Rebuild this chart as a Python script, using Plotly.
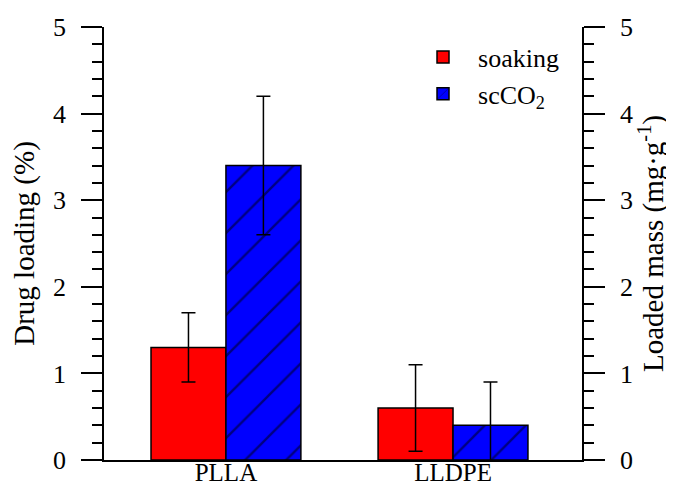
import plotly.graph_objects as go

categories = ["PLLA", "LLDPE"]
soaking = [1.3, 0.6]
soaking_err = [0.4, 0.5]
scco2 = [3.4, 0.4]
scco2_err = [0.8, 0.5]
y_ticks = [0, 1, 2, 3, 4, 5]

FONT = "Liberation Serif"
TICK_SIZE = 26
TITLE_SIZE = 29

fig = go.Figure()
fig.add_trace(go.Bar(
    x=categories, y=soaking, name="soaking",
    marker=dict(color="#ff0000", line=dict(color="black", width=1.5)),
    error_y=dict(type="data", array=soaking_err, color="black", thickness=1.5, width=7),
))
fig.add_trace(go.Bar(
    x=categories, y=scco2, name="scCO<sub>2</sub>",
    marker=dict(color="#0000ff", line=dict(color="black", width=1.5),
                pattern=dict(shape="/", fgcolor="black", bgcolor="#0000ff", size=29, solidity=0.08)),
    error_y=dict(type="data", array=scco2_err, color="black", thickness=1.5, width=7),
))
# empty trace so the right-hand axis is drawn
fig.add_trace(go.Scatter(x=[], y=[], yaxis="y2", showlegend=False, hoverinfo="skip"))

axis_common = dict(
    range=[0, 5], tickvals=y_ticks, ticks="outside", ticklen=21, tickwidth=1.5, tickcolor="black",
    showline=True, linecolor="black", linewidth=1.5, showgrid=False, zeroline=False,
    tickfont=dict(family=FONT, size=TICK_SIZE, color="black"),
    minor=dict(dtick=0.2, ticks="outside", ticklen=10, tickwidth=1.5, tickcolor="black"),
    ticklabelstandoff=10, automargin=False,
)

fig.update_layout(
    width=666, height=479,
    margin=dict(l=96, r=92, t=19, b=27),
    paper_bgcolor="white", plot_bgcolor="white",
    barmode="group", bargap=0.34, bargroupgap=0,
    font=dict(family=FONT, size=TICK_SIZE, color="black"),
    showlegend=True,
    legend=dict(x=0.636, y=0.985, xanchor="left", yanchor="top", bgcolor="rgba(0,0,0,0)",
                font=dict(family=FONT, size=TICK_SIZE), itemwidth=60, tracegroupgap=0),
    xaxis=dict(type="category", range=[-0.537, 1.568], showline=True, linecolor="black", linewidth=1.5,
               ticks="", showgrid=False, automargin=False, ticklabelstandoff=-11,
               tickfont=dict(family=FONT, size=25, color="black")),
    yaxis=dict(**axis_common, title=dict(text="Drug loading (%)", font=dict(family=FONT, size=TITLE_SIZE), standoff=10)),
    yaxis2=dict(**axis_common, overlaying="y", side="right", anchor="x",
                title=dict(text="Loaded mass (mg·g<sup>-1</sup>)", font=dict(family=FONT, size=TITLE_SIZE), standoff=6)),
)

fig.write_html("out.html")
